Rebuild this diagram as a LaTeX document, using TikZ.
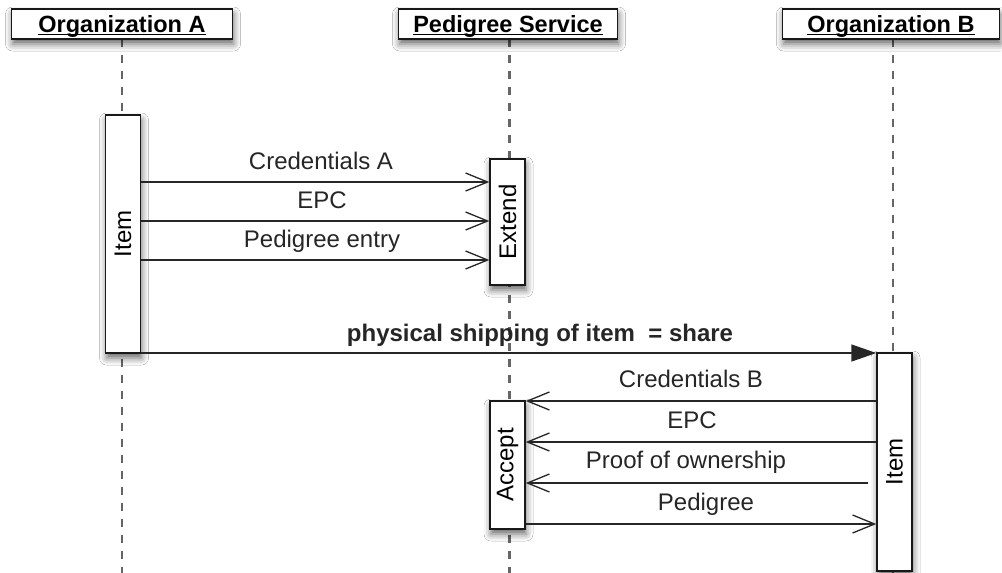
\documentclass[tikz,border=0pt]{standalone}
\usepackage{fontspec}
\setmainfont{Liberation Sans}
\usetikzlibrary{arrows.meta,shadows.blur}
\newcommand{\hdrul}[1]{\setbox0\hbox{#1}\rlap{\rule[-2.6pt]{\wd0}{1.2pt}}\box0}
\begin{document}
\begin{tikzpicture}[x=1pt,y=-1pt,
  every node/.style={font=\fontsize{24}{28}\selectfont},
  shad/.style={blur shadow={shadow xshift=1pt, shadow yshift=-5pt, shadow blur radius=7pt, shadow opacity=60}},
  hdr/.style={shad, draw=black!90, line width=1.4pt, fill=white, minimum height=30pt, inner sep=0pt,
    text height=19pt, text depth=2pt, font=\fontsize{23.5}{28}\selectfont\bfseries},
  act/.style={shad, draw=black!90, line width=1.4pt, fill=white, minimum height=35pt, inner sep=0pt},
  life/.style={draw=black!60, line width=2.2pt, dash pattern=on 8pt off 8pt},
  msg/.style={draw=black!85, line width=1.3pt, -{Straight Barb[length=22pt,width=18pt,line width=1.3pt]}},
  ship/.style={draw=black!85, line width=1.5pt, -{Triangle[length=25pt,width=17pt]}},
  lbl/.style={anchor=base, inner sep=0pt, text=black!85}
]
\clip (0,0) rectangle (1002,573);
\fill[white] (0,0) rectangle (1002,573);

% y levels
\coordinate (bot) at (0,573);
\coordinate (y1) at (0,182);
\coordinate (y2) at (0,221);
\coordinate (y3) at (0,260);
\coordinate (y4) at (0,353);
\coordinate (y5) at (0,401);
\coordinate (y6) at (0,442);
\coordinate (y7) at (0,483);
\coordinate (y8) at (0,524);

% header centres and lifeline tops
\coordinate (cA) at (122,24);
\coordinate (cP) at (508,24);
\coordinate (cB) at (891,24);
\coordinate (lA) at (122,39);
\coordinate (lP) at (509.5,39);
\coordinate (lB) at (893,39);

% lifelines
\draw[life] (lA) -- (lA |- bot);
\draw[life] (lP) -- (lP |- bot);
\draw[life] (lB) -- (lB |- bot);

% activation boxes
\node[act, minimum width=238pt, rotate=90] (itemA) at (123,234) {Item};
\node[act, minimum width=126pt, rotate=90] (extend) at (507.5,222) {Extend};
\node[act, minimum width=128pt, rotate=90] (accept) at (507.5,465) {Accept};
\node[act, minimum width=218pt, rotate=90] (itemB) at (894.5,462) {Item};

% headers
\node[hdr, minimum width=221pt] (orgA) at (cA) {\hdrul{Organization A}};
\node[hdr, minimum width=219pt] (ped) at (cP) {\hdrul{Pedigree Service}};
\node[hdr, minimum width=217pt] (orgB) at (cB) {\hdrul{Organization B}};

% messages A -> Pedigree
\draw[msg] (itemA.south |- y1) -- (extend.north |- y1);
\draw[msg] (itemA.south |- y2) -- (extend.north |- y2);
\draw[msg] (itemA.south |- y3) -- (extend.north |- y3);
\node[lbl] (lCA) at (321,169) {Credentials A};
\node[lbl] (lE1) at (322,208) {EPC};
\node[lbl] (lPE) at (322,247) {Pedigree entry};

% shipping
\draw[ship] (itemA.south |- y4) -- (itemB.north |- y4);
\node[lbl, font=\fontsize{24}{28}\selectfont\bfseries] (lSh) at (540,341) {physical shipping of item\ \ = share};

% messages B -> Pedigree
\draw[msg] (itemB.north |- y5) -- (accept.south |- y5);
\draw[msg] (itemB.north |- y6) -- (accept.south |- y6);
\draw[msg] ([xshift=-8pt]itemB.north |- y7) -- (accept.south |- y7);
\draw[msg] (accept.south |- y8) -- (itemB.north |- y8);
\node[lbl] (lCB) at (691,387) {Credentials B};
\node[lbl] (lE2) at (692,428) {EPC};
\node[lbl] (lPO) at (686,468) {Proof of ownership};
\node[lbl] (lPd) at (706,510) {Pedigree};
\end{tikzpicture}
\end{document}
